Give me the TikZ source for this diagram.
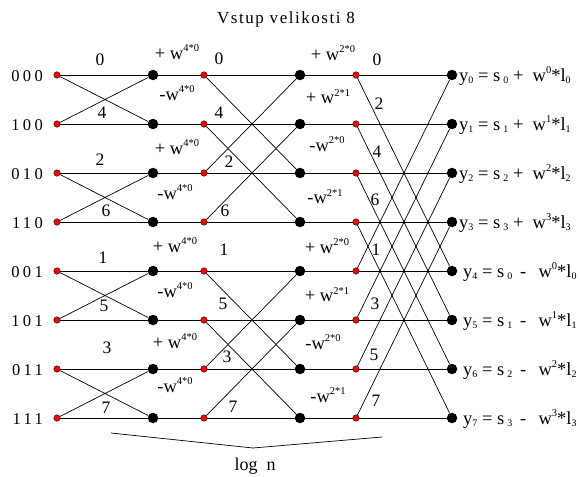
\documentclass[tikz,border=0pt]{standalone}
\usepackage{fontspec}
\setmainfont{Liberation Serif}
\newfontfamily\spacedrow[LetterSpace=20]{Liberation Serif}
\newfontfamily\spacedtitle[LetterSpace=9]{Liberation Serif}
\newcommand\lo[1]{\raisebox{-0.3ex}{\fontsize{10}{10}\selectfont #1}}
\newcommand\hi[1]{\raisebox{0.85ex}{\fontsize{10.5}{10.5}\selectfont #1}}
\tikzset{
  reddot/.style={circle,fill=red,draw=black,line width=0.4pt,inner sep=0pt,minimum size=6.5pt},
  blackdot/.style={circle,fill=black,inner sep=0pt,minimum size=10.5pt},
  wire/.style={line width=0.7pt,black},
  rowlab/.style={font=\fontsize{16.5}{16.5}\selectfont\spacedrow,anchor=east,inner sep=0pt},
  numlab/.style={font=\fontsize{17.5}{17.5}\selectfont,inner sep=0pt},
  twlab/.style={font=\fontsize{18.5}{18.5}\selectfont,inner sep=0pt},
  outlab/.style={font=\fontsize{18.5}{18.5}\selectfont,anchor=west,inner sep=0pt},
}
\begin{document}
\begin{tikzpicture}[x=1pt,y=-1pt]
\useasboundingbox (0,0) rectangle (580,476);
\node[font=\fontsize{17}{17}\selectfont\spacedtitle,inner sep=0pt] (title) at (286,19) {Vstup velikosti 8};
% nodes
\foreach \y [count=\i from 0] in {75,124,173,222,271,320,369,418}{
  \node[reddot] (r1-\i) at (57,\y) {};
  \node[blackdot] (b1-\i) at (153,\y) {};
  \node[reddot] (r2-\i) at (204,\y) {};
  \node[blackdot] (b2-\i) at (300,\y) {};
  \node[reddot] (r3-\i) at (356,\y) {};
  \node[blackdot] (b3-\i) at (452,\y) {};
}
% row labels
\foreach \t [count=\i from 0] in {000,100,010,110,001,101,011,111}{
  \node[rowlab] (rl-\i) at (43,76+49*\i) {\t};
}
% stage 1
\foreach \a/\b in {0/1,2/3,4/5,6/7}{
  \draw[wire] (r1-\a) -- (b1-\a);
  \draw[wire] (r1-\a) -- (b1-\b);
  \draw[wire] (r1-\b) -- (b1-\a);
  \draw[wire] (r1-\b) -- (b1-\b);
}
% stage 2
\foreach \a/\b in {0/2,1/3,4/6,5/7}{
  \draw[wire] (r2-\a) -- (b2-\a);
  \draw[wire] (r2-\a) -- (b2-\b);
  \draw[wire] (r2-\b) -- (b2-\a);
  \draw[wire] (r2-\b) -- (b2-\b);
}
% stage 3
\foreach \a/\b in {0/4,1/5,2/6,3/7}{
  \draw[wire] (r3-\a) -- (b3-\a);
  \draw[wire] (r3-\a) -- (b3-\b);
  \draw[wire] (r3-\b) -- (b3-\a);
  \draw[wire] (r3-\b) -- (b3-\b);
}
% connections black -> red
\foreach \i in {0,...,7}{
  \draw[wire] (b1-\i) -- (r2-\i);
  \draw[wire] (b2-\i) -- (r3-\i);
}
% index labels
\foreach \t/\x/\y [count=\k] in {0/100/60,4/102/113,2/100/160,6/106/211,1/103/258,5/104/306,3/107/348,7/106/408}{
  \node[numlab] (na-\k) at (\x,\y) {\t};
}
\foreach \t/\x/\y [count=\k] in {0/219/59,4/219/113,2/229/162,6/225/211,1/224/250,5/223/304,3/227/357,7/233/407}{
  \node[numlab] (nb-\k) at (\x,\y) {\t};
}
\foreach \t/\x/\y [count=\k] in {0/377/60,2/379/104,4/377/152,6/375/200,1/376/250,3/375/304,5/374/355,7/376/401}{
  \node[numlab] (nc-\k) at (\x,\y) {\t};
}
% twiddle labels
\node[twlab] (ta-1) at (177,52) {+ w\hi{4*0}};
\node[twlab] (ta-2) at (177,93) {-w\hi{4*0}};
\node[twlab] (ta-3) at (177,147) {+ w\hi{4*0}};
\node[twlab] (ta-4) at (175,192) {-w\hi{4*0}};
\node[twlab] (ta-5) at (175,245) {+ w\hi{4*0}};
\node[twlab] (ta-6) at (175,290) {-w\hi{4*0}};
\node[twlab] (ta-7) at (175,341) {+ w\hi{4*0}};
\node[twlab] (ta-8) at (175,385) {-w\hi{4*0}};
\node[twlab] (tb-1) at (333,53) {+ w\hi{2*0}};
\node[twlab] (tb-2) at (328,97) {+ w\hi{2*1}};
\node[twlab] (tb-3) at (327,144) {-w\hi{2*0}};
\node[twlab] (tb-4) at (325,197) {-w\hi{2*1}};
\node[twlab] (tb-5) at (327,246) {+ w\hi{2*0}};
\node[twlab] (tb-6) at (327,295) {+ w\hi{2*1}};
\node[twlab] (tb-7) at (323,342) {-w\hi{2*0}};
\node[twlab] (tb-8) at (328,395) {-w\hi{2*1}};
% outputs
\foreach \k/\s/\o in {0/0/+,1/1/+,2/2/+,3/3/+}{
  \node[outlab] (out-\k) at (459,76+49*\k) {y\lo{\k} = s\,\lo{\s} \o\ \ w\hi{\k}*l\lo{\s}};
}
\foreach \k/\s in {4/0,5/1,6/2,7/3}{
  \node[outlab] (out-\k) at (463,76+49*\k) {y\lo{\k} = s\,\lo{\s} \,-\, \ w\hi{\s}*l\lo{\s}};
}
% brace
\coordinate (br-l) at (111,433);
\coordinate (br-m) at (253,448);
\coordinate (br-r) at (382,437);
\draw[line width=0.7pt] (br-l) -- (br-m) -- (br-r);
\node[font=\fontsize{18}{18}\selectfont,inner sep=0pt] (logn) at (255,466) {log\ \ n};
\end{tikzpicture}
\end{document}
